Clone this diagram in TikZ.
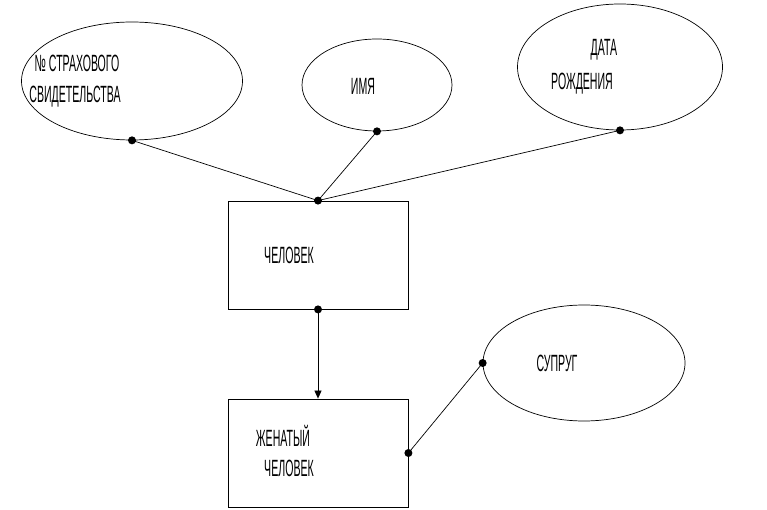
\documentclass[tikz,border=0pt]{standalone}
\usepackage{fontspec}
\setmainfont[FakeStretch=0.45]{Liberation Sans}
\usetikzlibrary{shapes.geometric,arrows.meta}
\begin{document}
\begin{tikzpicture}[x=1pt,y=-1pt,
  attr/.style={draw,ellipse,inner sep=0pt,line width=0.7pt},
  ent/.style={draw,rectangle,inner sep=0pt,line width=0.8pt,minimum width=180pt,minimum height=108pt},
  lbl/.style={inner sep=0pt,font=\fontsize{23.5}{28}\selectfont},
  conn/.style={line width=0.7pt},
  dotmark/.style={fill=black}]
\useasboundingbox (0,0) rectangle (767,510);
\node[attr,minimum width=221pt,minimum height=118pt] (snils) at (132,81) {};
\node[attr,minimum width=150pt,minimum height=92pt] (name) at (377,85) {};
\node[attr,minimum width=205pt,minimum height=126pt] (dob) at (620,67) {};
\node[attr,minimum width=202pt,minimum height=116pt] (spouse) at (584,363) {};
\node[ent] (person) at (318,255) {};
\node[ent] (married) at (318,453) {};
\node[lbl] (t1) at (77,63) {№ СТРАХОВОГО};
\node[lbl] (t2) at (75,97) {СВИДЕТЕЛЬСТВА};
\node[lbl] (t3) at (363,86) {ИМЯ};
\node[lbl] (t4) at (604,50) {ДАТА};
\node[lbl] (t5) at (582,84) {РОЖДЕНИЯ};
\node[lbl] (t6) at (289,255) {ЧЕЛОВЕК};
\node[lbl] (t7) at (283,436) {ЖЕНАТЫЙ};
\node[lbl] (t8) at (289,468) {ЧЕЛОВЕК};
\node[lbl] (t9) at (557,363) {СУПРУГ};
\draw[conn] (snils.south) -- (person.north);
\draw[conn] (name.south) -- (person.north);
\draw[conn] (dob.south) -- (person.north);
\draw[conn,-{Triangle[length=8pt,width=7pt]}] (person.south) -- (married.north);
\draw[conn] (married.east) -- (spouse.west);
\foreach \p in {snils.south,name.south,dob.south,person.north,person.south,married.east,spouse.west}
  \fill[dotmark] (\p) circle[radius=4pt];
\end{tikzpicture}
\end{document}
